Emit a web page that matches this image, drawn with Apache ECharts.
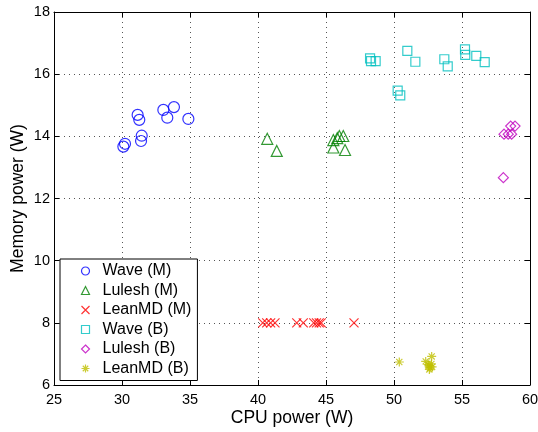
<!DOCTYPE html>
<html><head><meta charset="utf-8">
<script src="https://cdn.jsdelivr.net/npm/echarts@6/dist/echarts.min.js"></script>
<style>html,body{margin:0;padding:0;background:#fff}#c{width:538px;height:432px}</style>
</head><body><div id="c"></div>
<script>
const xTicks = [25, 30, 35, 40, 45, 50, 55, 60];
const yTicks = [6, 8, 10, 12, 14, 16, 18];
const seriesNames = ['Wave (M)', 'Lulesh (M)', 'LeanMD (M)', 'Wave (B)', 'Lulesh (B)', 'LeanMD (B)'];

const waveM = [[31.15,14.69],[31.27,14.53],[33.04,14.85],[33.82,14.94],[33.33,14.60],[34.88,14.56],[31.45,14.02],[31.40,13.85],[30.22,13.76],[30.10,13.67]];
const luleshM = [[40.68,13.92],[41.38,13.53],[45.54,13.88],[45.98,14.01],[46.27,14.01],[45.83,13.94],[45.54,13.64],[46.40,13.56]];
const leanmdM = [[40.35,8.0],[40.64,8.0],[40.93,8.0],[41.25,8.0],[42.85,8.0],[43.33,8.0],[44.10,8.0],[44.30,8.0],[44.50,8.0],[44.65,8.0],[47.06,8.0]];
const waveB = [[48.24,16.51],[48.31,16.42],[48.65,16.42],[50.98,16.75],[51.57,16.40],[53.70,16.48],[53.95,16.25],[55.22,16.80],[55.24,16.62],[56.05,16.59],[56.67,16.39],[50.27,15.47],[50.46,15.32]];
const luleshB = [[58.58,14.33],[58.90,14.33],[58.09,14.07],[58.40,14.07],[58.65,14.07],[58.04,12.67]];
const leanmdB = [[50.39,6.74],[52.77,6.92],[52.33,6.76],[52.55,6.62],[52.65,6.55],[52.75,6.68],[52.60,6.50],[52.80,6.58],[52.50,6.66]];

const chart = echarts.init(document.getElementById('c'));
const font = 'Liberation Sans, Arial, Helvetica, sans-serif';
const starPath = 'path://M5,0L5,10M0,5L10,5M1.6,1.6L8.4,8.4M8.4,1.6L1.6,8.4';
const xPath = 'path://M0,0L10,10M10,0L0,10';
const styles = [
  ['circle', '#0000ff', 11],
  ['triangle', '#008000', 11],
  [xPath, '#ff0000', 9],
  ['rect', '#00bfbf', 9],
  ['diamond', '#bf00bf', 10],
  [starPath, '#bfbf00', 9]
];
const seriesData = [waveM, luleshM, leanmdM, waveB, luleshB, leanmdB];
const axisCommon = {
  axisLine: { show: true, lineStyle: { color: '#000', width: 1 } },
  axisTick: { show: true, inside: true, length: 5, lineStyle: { color: '#000' } },
};
chart.setOption({
  animation: false,
  backgroundColor: '#fff',
  textStyle: { fontFamily: font },
  grid: { left: 54, right: 8, top: 12, bottom: 47, show: false, containLabel: false, outerBoundsMode: 'none' },
  xAxis: [
    Object.assign({ type: 'value', min: 25, max: 60, interval: 5, position: 'bottom',
      name: 'CPU power (W)', nameLocation: 'middle', nameGap: 24, nameMoveOverlap: false,
      nameTextStyle: { fontSize: 17.5, color: '#000', fontFamily: font },
      axisLabel: { fontSize: 14.5, color: '#000', fontFamily: font, margin: 7,
        formatter: v => xTicks.includes(v) ? String(v) : '' },
      splitLine: { show: true, lineStyle: { color: '#555', type: [1, 4], width: 1 } } }, axisCommon),
    Object.assign({ type: 'value', min: 25, max: 60, interval: 5, position: 'top',
      axisLabel: { show: false }, splitLine: { show: false } }, axisCommon)
  ],
  yAxis: [
    Object.assign({ type: 'value', min: 6, max: 18, interval: 2, position: 'left',
      name: 'Memory power (W)', nameLocation: 'middle', nameGap: 27, nameMoveOverlap: false,
      nameTextStyle: { fontSize: 17.5, color: '#000', fontFamily: font },
      axisLabel: { fontSize: 14.5, color: '#000', fontFamily: font, margin: 4,
        formatter: v => yTicks.includes(v) ? String(v) : '' },
      splitLine: { show: true, lineStyle: { color: '#555', type: [1, 4], width: 1 } } }, axisCommon),
    Object.assign({ type: 'value', min: 6, max: 18, interval: 2, position: 'right',
      axisLabel: { show: false }, splitLine: { show: false } }, axisCommon)
  ],
  legend: {
    orient: 'vertical', left: 60, top: 259,
    backgroundColor: '#fff', borderColor: '#000', borderWidth: 1,
    padding: [4, 6, 4, 19],
    itemWidth: 8, itemHeight: 8, itemGap: 3.5,
    textStyle: { fontSize: 16, lineHeight: 16, color: '#000', fontFamily: font, padding: [0, 0, 0, 8] },
    data: seriesNames.map((n, i) => ({
      name: n, icon: styles[i][0],
      itemStyle: { color: 'none', borderColor: styles[i][1], borderWidth: 1.2 }
    }))
  },
  series: seriesNames.map((n, i) => ({
    name: n, type: 'scatter', data: seriesData[i],
    symbol: styles[i][0], symbolSize: styles[i][2],
    itemStyle: { color: 'none', borderColor: styles[i][1], borderWidth: 1.2 },
    emphasis: { disabled: true }
  }))
});
</script></body></html>
